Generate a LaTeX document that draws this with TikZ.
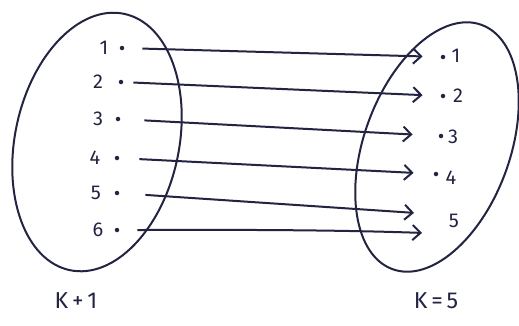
\documentclass[tikz,border=0pt]{standalone}
\usepackage{fontspec}
\setmainfont{Fira Sans}
\usetikzlibrary{arrows.meta,shapes.geometric}
\definecolor{ink}{RGB}{34,36,66}
\tikzset{
  blob/.style={draw=ink, line width=2pt, ellipse, inner sep=0pt},
  pt/.style={circle, fill=ink, inner sep=0pt, minimum size=4.5pt},
  lab/.style={text=ink, font=\fontsize{20}{24}\selectfont, inner sep=1pt},
  big/.style={text=ink, font=\fontsize{23}{27}\selectfont, inner sep=1pt},
  arr/.style={draw=ink, line width=2pt, -{Straight Barb[length=8pt,width=15pt,line width=2pt]}}
}
\begin{document}
\begin{tikzpicture}[x=1pt,y=-1pt]
\useasboundingbox (0,0) rectangle (519,325);
\fill[white] (0,0) rectangle (519,325);
% sets
\node[blob, minimum width=164pt, minimum height=262pt, rotate=-12] (A) at (97,142) {};
\node[blob, minimum width=146pt, minimum height=260pt, rotate=-20] (B) at (437,147) {};
% left elements
\node[lab] (n1) at (104,48) {1};
\node[pt]  (l1) at (122,48) {};
\node[lab] (n2) at (98,82) {2};
\node[pt]  (l2) at (121,82) {};
\node[lab] (n3) at (98,119) {3};
\node[pt]  (l3) at (118,119) {};
\node[lab] (n4) at (95,158) {4};
\node[pt]  (l4) at (117,158) {};
\node[lab] (n5) at (96,193) {5};
\node[pt]  (l5) at (117,193) {};
\node[lab] (n6) at (98,230) {6};
\node[pt]  (l6) at (117,230) {};
% right elements
\node[pt]  (r1) at (443,57) {};
\node[lab] (m1) at (456,56) {1};
\node[pt]  (r2) at (443,96) {};
\node[lab] (m2) at (458,96) {2};
\node[pt]  (r3) at (441,136) {};
\node[lab] (m3) at (453,137) {3};
\node[pt]  (r4) at (436,174) {};
\node[lab] (m4) at (451,178) {4};
\node[lab] (m5) at (454,221) {5};
% mapping
\draw[arr, shorten <=18pt, shorten >=18pt] (l1) -- (r1);
\draw[arr, shorten <=10pt, shorten >=18pt] (l2) -- (r2);
\draw[arr, shorten <=24pt, shorten >=26pt] (l3) -- (r3);
\draw[arr, shorten <=20pt, shorten >=20pt] (l4) -- (r4);
\draw[arr, shorten <=26pt, shorten >=2pt] (l5) -- ([xshift=-38pt,yshift=8pt]m5.center);
\draw[arr, shorten <=18pt, shorten >=2pt] (l6) .. controls ([xshift=60pt]l6) and ([xshift=-140pt,yshift=-8pt]m5.center) .. ([xshift=-30pt,yshift=-12pt]m5.center);
% captions
\node[big] (ka) at (76,301) {K\,+\,1};
\node[big] (kb) at (436,301) {K\,=\,5};
\end{tikzpicture}
\end{document}
